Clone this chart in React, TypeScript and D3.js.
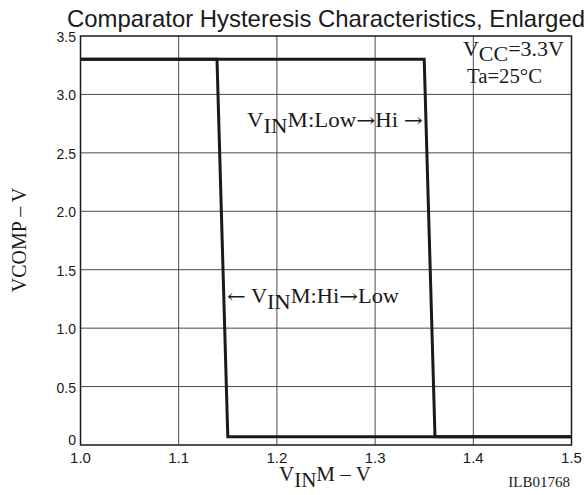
import React from "react";
import * as d3 from "d3";

const W = 588;
const H = 495;

const titleText = "Comparator Hysteresis Characteristics, Enlarged";
const xTicks = [1.0, 1.1, 1.2, 1.3, 1.4, 1.5];
const xTickLabels = ["1.0", "1.1", "1.2", "1.3", "1.4", "1.5"];
const yTicks = [0, 0.5, 1.0, 1.5, 2.0, 2.5, 3.0, 3.5];
const yTickLabels = ["0", "0.5", "1.0", "1.5", "2.0", "2.5", "3.0", "3.5"];

// VINM: Low -> Hi (input rising)
const lowHiX = [1.0, 1.35, 1.361, 1.5];
const lowHiY = [3.3, 3.3, 0.07, 0.07];
// VINM: Hi -> Low (input falling)
const hiLowX = [1.5, 1.15, 1.139, 1.0];
const hiLowY = [0.07, 0.07, 3.3, 3.3];

const m = { left: 80.5, right: 571.5, top: 36, bottom: 445 };

export default function App() {
  const x = d3.scaleLinear().domain([1.0, 1.5]).range([m.left, m.right]);
  const y = d3.scaleLinear().domain([0, 3.5]).range([m.bottom, m.top]);
  const line = d3
    .line<[number, number]>()
    .x((d) => x(d[0]))
    .y((d) => y(d[1]));
  const lowHi = lowHiX.map((v, i) => [v, lowHiY[i]] as [number, number]);
  const hiLow = hiLowX.map((v, i) => [v, hiLowY[i]] as [number, number]);

  const sans = "'Liberation Sans', Arial, sans-serif";
  const serif = "'Liberation Serif', 'Times New Roman', serif";
  const arrowFont = "'DejaVu Serif', 'DejaVu Sans', serif";
  const ink = "#1a1a1a";

  return (
    <svg
      width={W}
      height={H}
      style={{ position: "absolute", left: 0, top: 0, background: "#fff" }}
    >
      <rect x={0} y={0} width={W} height={H} fill="#fff" />
      <text
        x={326}
        y={27}
        textAnchor="middle"
        fontFamily={sans}
        fontSize={24}
        fill={ink}
        textLength={518}
        lengthAdjust="spacingAndGlyphs"
      >
        {titleText}
      </text>

      {/* grid */}
      {xTicks.slice(1, -1).map((t) => (
        <line
          key={"gx" + t}
          x1={x(t)}
          x2={x(t)}
          y1={m.top}
          y2={m.bottom}
          stroke="#4a4a4a"
          strokeWidth={1}
        />
      ))}
      {yTicks.slice(1, -1).map((t) => (
        <line
          key={"gy" + t}
          x1={m.left}
          x2={m.right}
          y1={y(t)}
          y2={y(t)}
          stroke="#4a4a4a"
          strokeWidth={1}
        />
      ))}

      {/* frame */}
      <rect
        x={m.left}
        y={m.top}
        width={m.right - m.left}
        height={m.bottom - m.top}
        fill="none"
        stroke={ink}
        strokeWidth={1.5}
      />

      {/* curves */}
      <path d={line(hiLow) || ""} fill="none" stroke={ink} strokeWidth={3} strokeLinejoin="miter" />
      <path d={line(lowHi) || ""} fill="none" stroke={ink} strokeWidth={3} strokeLinejoin="miter" />

      {/* tick labels */}
      {yTicks.map((t, i) => (
        <text
          key={"yl" + t}
          x={76}
          y={Math.min(y(t) + 6, 445)}
          textAnchor="end"
          fontFamily={sans}
          fontSize={14}
          fill={ink}
        >
          {yTickLabels[i]}
        </text>
      ))}
      {xTicks.map((t, i) => (
        <text
          key={"xl" + t}
          x={x(t)}
          y={463}
          textAnchor="middle"
          fontFamily={sans}
          fontSize={15}
          fill={ink}
        >
          {xTickLabels[i]}
        </text>
      ))}

      {/* axis titles */}
      <text
        transform="translate(26,240) rotate(-90)"
        textAnchor="middle"
        fontFamily={serif}
        fontSize={20}
        fill={ink}
      >
        VCOMP – V
      </text>
      <text x={279} y={481} fontFamily={serif} fontSize={21} fill={ink}>
        V<tspan dy={6}>IN</tspan>
        <tspan dy={-6}>M – V</tspan>
      </text>
      <text x={570} y={487} textAnchor="end" fontFamily={serif} fontSize={15} fill={ink}>
        ILB01768
      </text>

      {/* annotations */}
      <text
        x={463}
        y={56}
        fontFamily={serif}
        fontSize={20}
        fill={ink}
        textLength={101}
        lengthAdjust="spacingAndGlyphs"
      >
        V<tspan dy={5}>CC</tspan>
        <tspan dy={-5}>=3.3V</tspan>
      </text>
      <text
        x={467}
        y={83}
        fontFamily={serif}
        fontSize={20}
        fill={ink}
        textLength={75}
        lengthAdjust="spacingAndGlyphs"
      >
        Ta=25°C
      </text>
      <text
        x={247}
        y={127}
        fontFamily={serif}
        fontSize={20}
        fill={ink}
        textLength={176}
        lengthAdjust="spacingAndGlyphs"
      >
        V<tspan dy={6}>IN</tspan>
        <tspan dy={-6}>M:Low</tspan>
        <tspan fontFamily={arrowFont} fontSize={20}>→</tspan>
        <tspan>Hi </tspan>
        <tspan fontFamily={arrowFont} fontSize={20}>→</tspan>
      </text>
      <text
        x={227}
        y={303}
        fontFamily={serif}
        fontSize={20}
        fill={ink}
        textLength={172}
        lengthAdjust="spacingAndGlyphs"
      >
        <tspan fontFamily={arrowFont} fontSize={20}>←</tspan>
        <tspan> V</tspan>
        <tspan dy={6}>IN</tspan>
        <tspan dy={-6}>M:Hi</tspan>
        <tspan fontFamily={arrowFont} fontSize={20}>→</tspan>
        <tspan>Low</tspan>
      </text>
    </svg>
  );
}
